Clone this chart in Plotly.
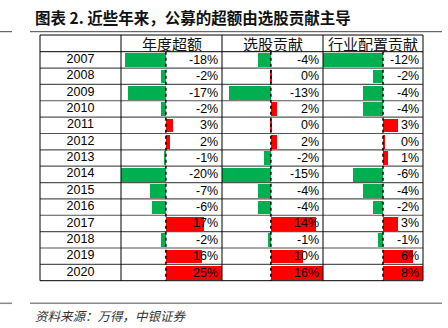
import plotly.graph_objects as go

years = ['2007', '2008', '2009', '2010', '2011', '2012', '2013',
         '2014', '2015', '2016', '2017', '2018', '2019', '2020']
excess = [-18, -2, -17, -2, 3, 2, -1, -20, -7, -6, 17, -2, 16, 25]
stock = [-4, 0.3, -13, 2, 0.2, 2, -2, -15, -4, -4, 14, -1, 10, 16]
industry = [-12, -2, -4, -4, 3, 0.3, 1, -6, -4, -2, 3, -1, 6, 8]
headers = ['年度超额', '选股贡献', '行业配置贡献']
title_text = '图表 2. 近些年来，公募的超额由选股贡献主导'
source_text = '资料来源：万得，中银证券'

W, H = 448, 328
def px(x):
    return x / W
def py(y):
    return 1 - y / H

GREEN = '#00B050'
RED = '#FF0000'
LATIN = 'Liberation Sans, Arial, sans-serif'
CJK = 'Noto Sans CJK SC, sans-serif'

col_edges = [40, 121, 222, 323, 423]
table_top, header_bot, table_bot = 35, 51.7, 280.7

series = [excess, stock, industry]
ranges = [[-20, 25], [-15, 16], [-12, 8]]
axis_names = ['x2', 'x3', 'x4']

fig = go.Figure()

for k, (vals, rng, ax) in enumerate(zip(series, ranges, axis_names)):
    fig.add_trace(go.Bar(
        x=vals, y=years, orientation='h', xaxis=ax, yaxis='y',
        width=0.84,
        marker=dict(color=[RED if v > 0 else GREEN for v in vals], line=dict(width=0)),
        hoverinfo='skip', showlegend=False,
    ))

fig.add_trace(go.Scatter(
    x=[0.5] * len(years), y=years, mode='text', text=years, xaxis='x', yaxis='y',
    textposition='middle center', textfont=dict(family=LATIN, size=12.5, color='black'),
    hoverinfo='skip', showlegend=False,
))

layout = dict(
    width=W, height=H, margin=dict(l=0, r=0, t=0, b=0),
    paper_bgcolor='white', plot_bgcolor='rgba(0,0,0,0)',
    bargap=0, showlegend=False,
    yaxis=dict(type='category', categoryorder='array', categoryarray=years,
               range=[len(years) - 0.5, -0.5], domain=[py(table_bot), py(header_bot)],
               visible=False, fixedrange=True),
    xaxis=dict(domain=[px(col_edges[0]), px(col_edges[1])], range=[0, 1],
               visible=False, anchor='y'),
)
for k, (rng, ax) in enumerate(zip(ranges, axis_names)):
    layout['xaxis' + ax[1:]] = dict(domain=[px(col_edges[k + 1]), px(col_edges[k + 2])],
                                   range=rng, visible=False, anchor='y')
fig.update_layout(**layout)

shapes = []
shapes.append(dict(type='line', xref='paper', yref='paper', x0=px(0), x1=px(12), y0=py(31.7), y1=py(31.7), line=dict(color='#444', width=1)))
shapes.append(dict(type='line', xref='paper', yref='paper', x0=px(30), x1=px(442), y0=py(31.7), y1=py(31.7), line=dict(color='#444', width=1)))
shapes.append(dict(type='line', xref='paper', yref='paper', x0=px(0), x1=px(12), y0=py(303.3), y1=py(303.3), line=dict(color='#888', width=1.5)))
shapes.append(dict(type='line', xref='paper', yref='paper', x0=px(30), x1=px(442), y0=py(303.3), y1=py(303.3), line=dict(color='#888', width=1.5)))
for i in range(len(years) - 1):
    shapes.append(dict(type='line', xref='paper', yref='y', x0=px(col_edges[0]), x1=px(col_edges[-1]),
                       y0=i + 0.5, y1=i + 0.5, line=dict(color='#555', width=1.2)))
for ax in axis_names:
    shapes.append(dict(type='line', xref=ax, yref='paper', x0=0, x1=0, y0=py(header_bot), y1=py(table_bot),
                       line=dict(color='black', width=1.5, dash='dot')))
shapes.append(dict(type='line', xref='paper', yref='paper', x0=px(col_edges[0]), x1=px(col_edges[-1]),
                   y0=py(header_bot), y1=py(header_bot), line=dict(color='black', width=1)))
for x in col_edges:
    shapes.append(dict(type='line', xref='paper', yref='paper', x0=px(x), x1=px(x), y0=py(table_top), y1=py(table_bot),
                       line=dict(color='black', width=1)))
for y in [table_top, table_bot]:
    shapes.append(dict(type='line', xref='paper', yref='paper', x0=px(col_edges[0]), x1=px(col_edges[-1]),
                       y0=py(y), y1=py(y), line=dict(color='black', width=1)))
fig.update_layout(shapes=shapes)

ann = []
ann.append(dict(xref='paper', yref='paper', x=px(33), y=py(17.5), xanchor='left', yanchor='middle',
                text='<b>' + title_text + '</b>', showarrow=False,
                font=dict(family=CJK, size=15.5, color='#111')))
ann.append(dict(xref='paper', yref='paper', x=px(33), y=py(315), xanchor='left', yanchor='middle',
                text='<i>' + source_text + '</i>', showarrow=False,
                font=dict(family=CJK, size=12.5, color='#333')))
for k, h in enumerate(headers):
    ann.append(dict(xref='paper', yref='paper', x=px((col_edges[k + 1] + col_edges[k + 2]) / 2),
                    y=py((table_top + header_bot) / 2), xanchor='center', yanchor='middle',
                    text=h, showarrow=False, font=dict(family=CJK, size=15, color='#111')))
for vals, rng, ax in zip(series, ranges, axis_names):
    for i, v in enumerate(vals):
        ann.append(dict(xref=ax, yref='y', x=rng[1], y=i, xanchor='right', yanchor='middle',
                        xshift=-2, text=f'{round(v):.0f}%', showarrow=False,
                        font=dict(family=LATIN, size=12.5, color='black')))
fig.update_layout(annotations=ann)

fig.write_html('out.html')
